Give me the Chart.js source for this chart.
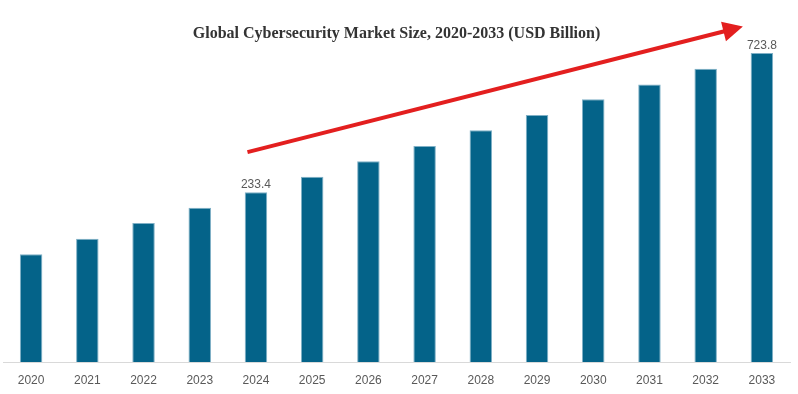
<!DOCTYPE html>
<html>
<head>
<meta charset="utf-8">
<script src="https://cdn.jsdelivr.net/npm/chart.js@4"></script>
<style>
  html, body { margin: 0; padding: 0; background: #ffffff; }
  #wrap { width: 798px; height: 394px; }
</style>
</head>
<body>
<div id="wrap"><canvas id="marketChart"></canvas></div>
<script>
// Years and market size (USD Billion)
const years = ['2020', '2021', '2022', '2023', '2024', '2025', '2026',
               '2027', '2028', '2029', '2030', '2031', '2032', '2033'];
const marketSize = [15.2, 70.1, 125.4, 179.2, 233.4, 288.4, 342.6,
                    396.4, 451.7, 505.6, 560.8, 613.6, 668.6, 723.8];
// only these years carry a value label
const labelledYears = ['2024', '2033'];
// the value axis of the original does not start at zero
const axisMin = -364;
const axisMax = 741;

// value labels above selected bars
const valueLabels = {
    id: 'valueLabels',
    afterDatasetsDraw(chart) {
        const ctx = chart.ctx;
        const meta = chart.getDatasetMeta(0);
        ctx.save();
        ctx.font = '12px "Liberation Sans", Arial, sans-serif';
        ctx.fillStyle = '#595959';
        ctx.textAlign = 'center';
        ctx.textBaseline = 'alphabetic';
        meta.data.forEach(function(bar, i) {
            if (labelledYears.indexOf(years[i]) === -1) return;
            ctx.fillText(marketSize[i].toFixed(1), bar.x, bar.y - 4);
        });
        ctx.restore();
    }
};

// red trend arrow from the 2024 bar up past the 2033 bar
const trendArrow = {
    id: 'trendArrow',
    afterDatasetsDraw(chart) {
        const ctx = chart.ctx;
        const x = chart.scales.x;
        const y = chart.scales.y;
        const x0 = x.getPixelForValue(4) - 8.5;
        const y0 = y.getPixelForValue(375);
        const x1 = x.getPixelForValue(13) - 19;
        const y1 = y.getPixelForValue(817);
        const ang = Math.atan2(y1 - y0, x1 - x0);
        const headLen = 20, headW = 10;
        const bx = x1 - headLen * Math.cos(ang);
        const by = y1 - headLen * Math.sin(ang);
        ctx.save();
        ctx.strokeStyle = '#e31f1f';
        ctx.fillStyle = '#e31f1f';
        ctx.lineWidth = 4;
        ctx.beginPath();
        ctx.moveTo(x0, y0);
        ctx.lineTo(bx + 2 * Math.cos(ang), by + 2 * Math.sin(ang));
        ctx.stroke();
        ctx.beginPath();
        ctx.moveTo(x1, y1);
        ctx.lineTo(bx + headW * Math.sin(ang), by - headW * Math.cos(ang));
        ctx.lineTo(bx - headW * Math.sin(ang), by + headW * Math.cos(ang));
        ctx.closePath();
        ctx.fill();
        ctx.restore();
    }
};

new Chart(document.getElementById('marketChart'), {
    type: 'bar',
    data: {
        labels: years,
        datasets: [{
            label: 'Market Size',
            data: marketSize,
            base: axisMin,
            backgroundColor: '#046389',
            borderColor: '#7fb0c6',
            borderWidth: { top: 1, left: 1, right: 1, bottom: 0 },
            borderSkipped: 'bottom',
            categoryPercentage: 1.0,
            barPercentage: 0.4
        }]
    },
    options: {
        responsive: true,
        maintainAspectRatio: false,
        animation: false,
        layout: { padding: { left: 3, right: 8, top: 0, bottom: 0 } },
        plugins: {
            legend: { display: false },
            tooltip: { enabled: false },
            title: {
                display: true,
                text: 'Global Cybersecurity Market Size, 2020-2033 (USD Billion)',
                color: '#333333',
                font: { family: '"Liberation Serif", "Times New Roman", serif', size: 16, weight: 'bold' },
                padding: { top: 24, bottom: 5 }
            }
        },
        scales: {
            x: {
                grid: { display: false, drawTicks: false },
                border: { display: true, color: '#d9d9d9', width: 1 },
                ticks: {
                    color: '#595959',
                    font: { family: '"Liberation Sans", Arial, sans-serif', size: 12 },
                    padding: 11,
                    maxRotation: 0
                },
                afterFit(scale) { scale.height = 32; }
            },
            y: {
                display: false,
                min: axisMin,
                max: axisMax
            }
        }
    },
    plugins: [valueLabels, trendArrow]
});
</script>
</body>
</html>
